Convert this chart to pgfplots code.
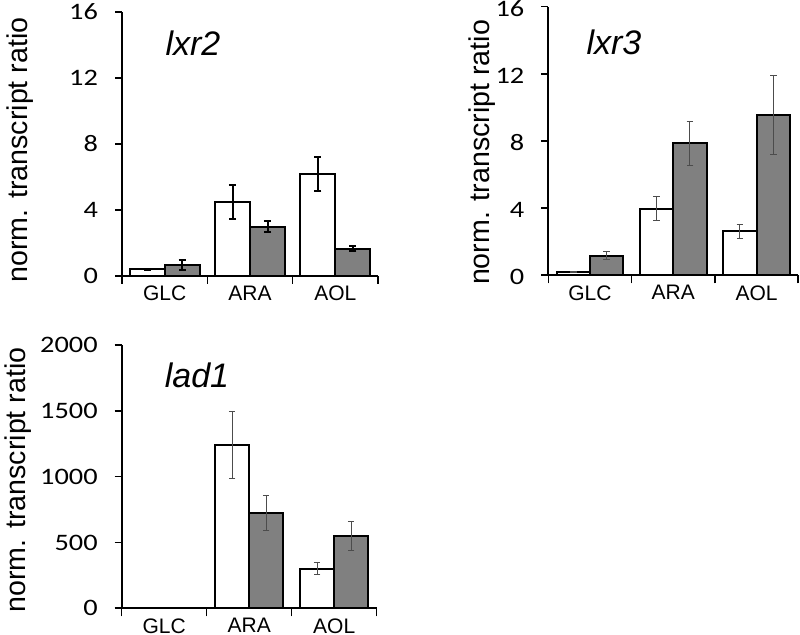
\documentclass[border=0pt]{standalone}
\usepackage{fontspec}
\setmainfont{Liberation Sans}
\newfontfamily\calfont[FakeStretch=1.2]{Carlito}
\usepackage{pgfplots}
\pgfplotsset{compat=1.18}
\definecolor{bargray}{HTML}{808080}

\newcommand\xl[1]{{\fontsize{10.5}{12}\selectfont #1}}
\newcommand\yl[1]{{\calfont\fontsize{11.8}{13}\selectfont #1}}

\pgfplotsset{
  panel/.style={
    scale only axis, anchor=south west,
    axis x line=bottom, axis y line=left,
    axis line style={-, line width=1pt, black},
    xmin=0, xmax=3, ymin=0, enlargelimits=false,
    xtick={0.5,1.5,2.5}, xticklabels={\xl{GLC},\xl{ARA},\xl{AOL}},
    major x tick style={draw=none},
    minor xtick={0,1,2,3},
    minor tick length=4pt,
    minor x tick style={black, line width=0.8pt},
    tick align=outside, major tick length=3.5pt,
    major y tick style={black, line width=0.8pt},
    yticklabel style={xshift=-5pt},
    xticklabel style={yshift=2pt},
    ybar=0pt,
  },
  whitebar/.style={fill=white, draw=black, line width=1pt},
  graybar/.style={fill=bargray, draw=black, line width=1pt},
  thickerr/.style={error bars/.cd, y dir=both, y explicit,
    error bar style={line width=1pt, black},
    error mark options={rotate=90, mark size=1.75pt, line width=1pt, black}},
  thinerr/.style={error bars/.cd, y dir=both, y explicit,
    error bar style={line width=0.5pt, black!70},
    error mark options={rotate=90, mark size=1.65pt, line width=0.5pt, black!70}},
}

\begin{document}
\begin{tikzpicture}
\path[use as bounding box] (0,0) rectangle (400pt,317.5pt);

% lxr2
\begin{axis}[panel, at={(61pt,179.5pt)}, width=128pt, height=132pt,
  ymax=16, ytick={0,4,8,12,16},
  yticklabels={\yl{0},\yl{4},\yl{8},\yl{12},\yl{16}}, bar width=17.5pt]
\addplot[whitebar, thickerr] coordinates {
  (0.5,0.40) +- (0,0.05)
  (1.5,4.47) +- (0,1.02)
  (2.5,6.20) +- (0,1.03)
};
\addplot[graybar, thickerr] coordinates {
  (0.5,0.67) +- (0,0.30)
  (1.5,2.99) +- (0,0.35)
  (2.5,1.66) +- (0,0.17)
};
\end{axis}

% lxr3
\begin{axis}[panel, at={(274.15pt,179.85pt)}, width=125pt, height=134.35pt,
  ymax=16, ytick={0,4,8,12,16},
  yticklabels={\yl{0},\yl{4},\yl{8},\yl{12},\yl{16}}, bar width=16.7pt,
  yticklabel style={yshift=-1pt}]
\addplot[whitebar, thinerr] coordinates {
  (0.5,0.18) +- (0,0.02)
  (1.5,3.97) +- (0,0.72)
  (2.5,2.62) +- (0,0.43)
};
\addplot[graybar, thinerr] coordinates {
  (0.5,1.17) +- (0,0.24)
  (1.5,7.87) +- (0,1.31)
  (2.5,9.52) +- (0,2.35)
};
\end{axis}

% lad1
\begin{axis}[panel, at={(60.85pt,13.35pt)}, width=127.5pt, height=131.65pt,
  ymax=2000, ytick={0,500,1000,1500,2000},
  yticklabels={\yl{0},\yl{500},\yl{1000},\yl{1500},\yl{2000}}, bar width=17pt]
\addplot[whitebar, thinerr] coordinates {
  (1.5,1238) +- (0,255)
  (2.5,299) +- (0,45)
};
\addplot[graybar, thinerr] coordinates {
  (1.5,724) +- (0,130)
  (2.5,549) +- (0,108)
};
\end{axis}

% titles
\node[anchor=base, font=\itshape\fontsize{17}{20}\selectfont] at (96.5pt,289.5pt) {lxr2};
\node[anchor=base, font=\itshape\fontsize{17}{20}\selectfont] at (307pt,290pt) {lxr3};
\node[anchor=base, font=\itshape\fontsize{17}{20}\selectfont] at (98.5pt,123.5pt) {lad1};

% y labels
\node[anchor=base, rotate=90, font=\fontsize{14.3}{16}\selectfont] at (13.5pt,242.5pt) {norm. transcript ratio};
\node[anchor=base, rotate=90, font=\fontsize{14.3}{16}\selectfont] at (244.5pt,241.25pt) {norm. transcript ratio};
\node[anchor=base, rotate=90, font=\fontsize{14.3}{16}\selectfont] at (12.5pt,77.5pt) {norm. transcript ratio};
\end{tikzpicture}
\end{document}
